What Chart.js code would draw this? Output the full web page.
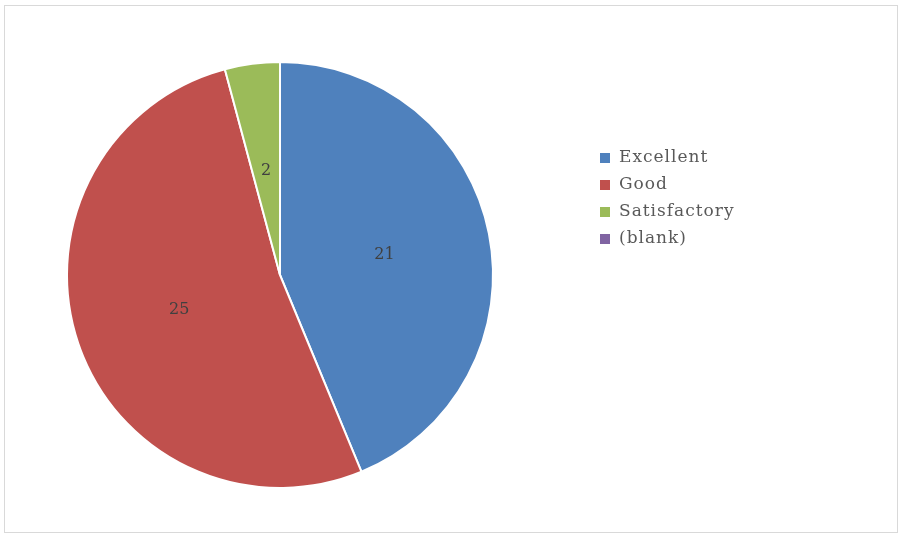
<!DOCTYPE html>
<html>
<head>
<meta charset="utf-8">
<script src="https://cdn.jsdelivr.net/npm/chart.js@4/dist/chart.umd.min.js"></script>
<style>
  body { margin: 0; background: #fff; }
  #wrap { position: relative; width: 903px; height: 538px; }
  #frame { position: absolute; left: 4px; top: 5px; width: 894px; height: 528px; border: 1px solid #d9d9d9; box-sizing: border-box; }
  canvas { position: absolute; left: 0; top: 0; }
</style>
</head>
<body>
<div id="wrap">
  <div id="frame"></div>
  <canvas id="pieChart" width="903" height="538"></canvas>
</div>
<script>
// Data
const categories = ['Excellent', 'Good', 'Satisfactory', '(blank)'];
const counts = [21, 25, 2, 0];
const sliceColors = ['#4f81bd', '#c0504d', '#9bbb59', '#8064a2'];

// Draw value labels at half radius, like the spreadsheet does
const sliceLabels = {
  id: 'sliceLabels',
  afterDatasetsDraw(chart) {
    const ctx = chart.ctx;
    const meta = chart.getDatasetMeta(0);
    ctx.save();
    ctx.font = '16px "DejaVu Serif"';
    ctx.fillStyle = '#404040';
    ctx.textAlign = 'center';
    ctx.textBaseline = 'middle';
    meta.data.forEach((arc, i) => {
      if (!counts[i]) return;
      const p = arc.getProps(['x', 'y', 'startAngle', 'endAngle', 'outerRadius']);
      const mid = (p.startAngle + p.endAngle) / 2;
      const r = p.outerRadius * 0.5;
      ctx.fillText(String(counts[i]), p.x + Math.cos(mid) * r, p.y + Math.sin(mid) * r + 1);
    });
    ctx.restore();
  }
};

// Legend drawn on the right
const sideLegend = {
  id: 'sideLegend',
  afterDraw(chart) {
    const ctx = chart.ctx;
    ctx.save();
    ctx.font = '17px "DejaVu Serif"';
    ctx.letterSpacing = '1px';
    ctx.textBaseline = 'middle';
    ctx.textAlign = 'left';
    categories.forEach((name, i) => {
      const y = 157 + i * 27;
      ctx.fillStyle = sliceColors[i];
      ctx.fillRect(600, y - 4, 10, 10);
      ctx.fillStyle = '#595959';
      ctx.fillText(name, 619, y + 1);
    });
    ctx.restore();
  }
};

const pieCtx = document.getElementById('pieChart').getContext('2d');
const pieChart = new Chart(pieCtx, {
  type: 'pie',
  data: {
    labels: categories,
    datasets: [
      {
        data: counts,
        backgroundColor: sliceColors,
        borderColor: '#ffffff',
        borderWidth: 2,
      },
    ],
  },
  options: {
    responsive: false,
    animation: false,
    layout: {
      padding: { left: 66, top: 61, right: 409, bottom: 49 },
    },
    plugins: {
      legend: { display: false },
      tooltip: { enabled: false },
    },
  },
  plugins: [sliceLabels, sideLegend],
});
</script>
</body>
</html>
